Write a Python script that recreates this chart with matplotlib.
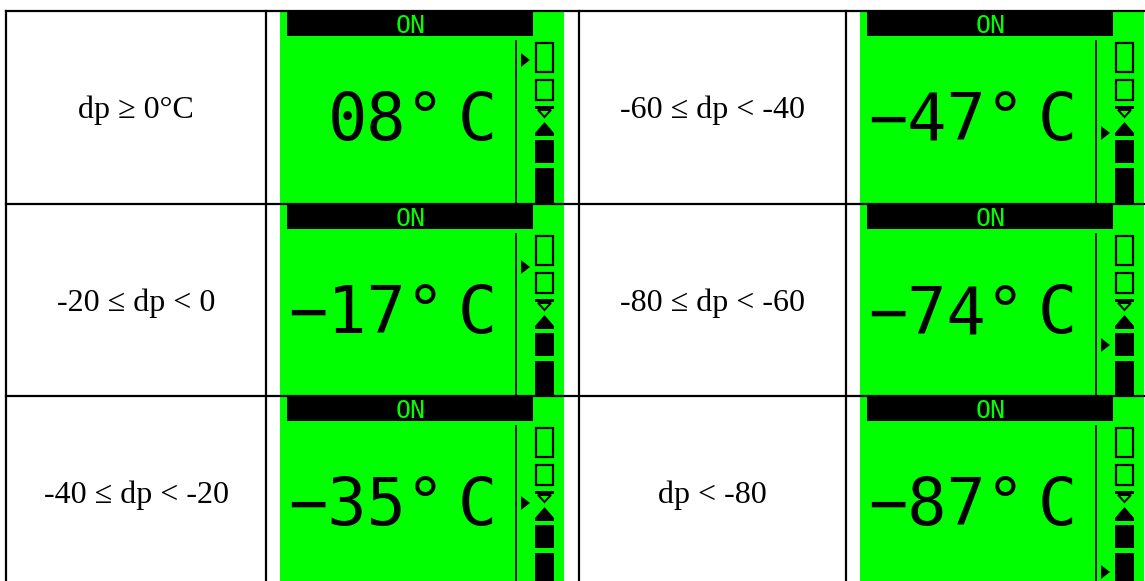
import matplotlib
matplotlib.use("Agg")
from matplotlib import pyplot as plt
from matplotlib.patches import Rectangle, Polygon

# table content
ranges = ["dp \u2265 0\u00b0C", "-20 \u2264 dp < 0", "-40 \u2264 dp < -20",
          "-60 \u2264 dp < -40", "-80 \u2264 dp < -60", "dp < -80"]
readings = ["08", "-17", "-35", "-47", "-74", "-87"]
levels = [0, 1, 2, 3, 4, 5]
status = "ON"
unit = "C"

# layout (pixels)
W, H = 1145, 581
col_edges = [6, 266, 579, 846, 1160]
row_edges = [11, 204, 396, 589]
pointer_y = [48, 62, 106, 121, 140, 175]
lcd_w = 284
lcd_green = "#00ff00"
mono = "DejaVu Sans Mono"


def draw_lcd(ax, x0, y0, h, reading, level):
    ax.add_patch(Rectangle((x0, y0), lcd_w, h, fc=lcd_green, ec="none"))
    ax.add_patch(Rectangle((x0 + 7, y0), 246, 24, fc="black", ec="none"))
    ax.text(x0 + 131, y0 + 21, status, color=lcd_green, family=mono,
            fontsize=18, ha="center", va="baseline")
    ax.plot([x0 + 236] * 2, [y0 + 29, y0 + h], color="#0a1a0a", lw=1.4)

    ix, iw = x0 + 255, 19
    ax.add_patch(Rectangle((ix + 1, y0 + 31), iw - 2, 29, fc="none", ec="black", lw=1.6))
    ax.add_patch(Rectangle((ix + 1, y0 + 68), iw - 2, 20, fc="none", ec="black", lw=1.6))
    ax.add_patch(Rectangle((ix, y0 + 94), iw, 3, fc="black", ec="none"))
    ax.add_patch(Polygon([(ix + 3, y0 + 98), (ix + iw - 3, y0 + 98), (ix + iw / 2, y0 + 105)],
                         closed=True, fc="none", ec="black", lw=1.4))
    ax.add_patch(Polygon([(ix + iw / 2, y0 + 110), (ix, y0 + 121), (ix + iw, y0 + 121)],
                         closed=True, fc="black", ec="none"))
    ax.add_patch(Rectangle((ix, y0 + 121), iw, 3, fc="black", ec="none"))
    ax.add_patch(Rectangle((ix, y0 + 128), iw, 23, fc="black", ec="none"))
    ax.add_patch(Rectangle((ix, y0 + 156), iw, h - 156, fc="black", ec="none"))

    py = y0 + pointer_y[level]
    ax.add_patch(Polygon([(x0 + 241, py - 7), (x0 + 241, py + 7), (x0 + 250, py)],
                         closed=True, fc="black", ec="none"))

    ax.text(x0 + 165, y0 + 128, reading.replace("-", "\u2212") + "\u00b0",
            family=mono, fontsize=47, color="black", ha="right", va="baseline")
    ax.text(x0 + 197, y0 + 128, unit,
            family=mono, fontsize=47, color="black", ha="center", va="baseline")


fig = plt.figure(figsize=(W / 100, H / 100), dpi=100)
ax = fig.add_axes([0, 0, 1, 1])
ax.set_xlim(0, W)
ax.set_ylim(H, 0)
ax.axis("off")

for i, (label, reading, level) in enumerate(zip(ranges, readings, levels)):
    r, pair = i % 3, i // 3
    top, bottom = row_edges[r], row_edges[r + 1]
    lc, ic = 2 * pair, 2 * pair + 1
    cx = (col_edges[lc] + col_edges[lc + 1]) / 2
    ax.text(cx, (top + bottom) / 2 + 10.5, label, fontsize=23,
            family=["Liberation Serif", "DejaVu Serif"], ha="center", va="baseline")
    draw_lcd(ax, col_edges[ic] + 14, top + 1, bottom - top - 2, reading, level)

for x in col_edges:
    ax.plot([x, x], [row_edges[0], row_edges[-1]], color="black", lw=1.6)
for y in row_edges:
    ax.plot([col_edges[0], col_edges[-1]], [y, y], color="black", lw=1.6)

fig.savefig("out.png", dpi=100)
